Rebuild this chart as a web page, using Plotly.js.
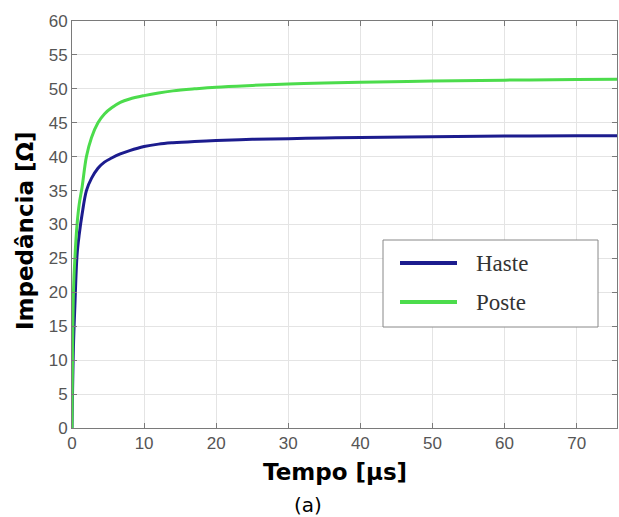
<!DOCTYPE html>
<html>
<head>
<meta charset="utf-8">
<script src="https://cdn.plot.ly/plotly-3.0.1.min.js"></script>
<style>html,body{margin:0;padding:0;background:#fff;}#chart{width:619px;height:517px;}</style>
</head>
<body>
<div id="chart"></div>
<script>
// Data
const tempo = [0, 0.2, 0.4, 0.7, 1.0, 1.4, 2.0, 2.7, 3.6, 4.5, 5.5, 6.7, 8, 10, 12, 14, 17, 20, 25, 30, 35, 40, 50, 60, 70, 76];
const haste = [0, 12, 18, 25.5, 28.5, 31.5, 35, 36.8, 38.3, 39.2, 39.8, 40.4, 40.9, 41.5, 41.85, 42.05, 42.25, 42.4, 42.55, 42.65, 42.75, 42.83, 42.95, 43.03, 43.08, 43.1];
const poste = [0, 20, 25, 30, 33, 35.5, 40, 42.8, 45, 46.3, 47.2, 48.0, 48.5, 49.0, 49.4, 49.7, 50.0, 50.25, 50.5, 50.7, 50.85, 50.97, 51.15, 51.28, 51.38, 51.43];
const seriesNames = ['Haste', 'Poste'];
const xTicks = [0, 10, 20, 30, 40, 50, 60, 70];
const yTicks = [0, 5, 10, 15, 20, 25, 30, 35, 40, 45, 50, 55, 60];
const xTitle = 'Tempo [μs]';
const yTitle = 'Impedância [Ω]';
const caption = '(a)';

const colors = ['#1c1c8e', '#4cdc4c'];

const traces = [
  {x: tempo, y: haste, name: seriesNames[0], type: 'scatter', mode: 'lines',
   line: {color: colors[0], width: 3, shape: 'spline', smoothing: 1.0}, showlegend: false},
  {x: tempo, y: poste, name: seriesNames[1], type: 'scatter', mode: 'lines',
   line: {color: colors[1], width: 3, shape: 'spline', smoothing: 1.0}, showlegend: false}
];

const L = 72, R = 617, T = 21, B = 428;
const W = 619, H = 517;
const px = v => (v - L) / (R - L);
const py = v => (B - v) / (B - T);

const axisCommon = {
  showline: true, linecolor: '#7a7a7a', linewidth: 1, mirror: 'ticks',
  ticks: 'inside', ticklen: 5, tickcolor: '#7a7a7a',
  showgrid: true, gridcolor: '#e4e4e4', gridwidth: 1,
  zeroline: false,
  tickfont: {family: 'Liberation Sans, Arial, sans-serif', size: 17, color: '#555'}
};

const legendLines = [
  {y: 263, color: colors[0], name: seriesNames[0]},
  {y: 302, color: colors[1], name: seriesNames[1]}
];

const shapes = [
  {type: 'rect', xref: 'paper', yref: 'paper', x0: px(383), x1: px(598), y0: py(327), y1: py(240),
   line: {color: '#888', width: 1}, fillcolor: '#fff', layer: 'above'}
];
const annotations = [];
legendLines.forEach(l => {
  shapes.push({type: 'line', xref: 'paper', yref: 'paper', x0: px(400), x1: px(457), y0: py(l.y), y1: py(l.y),
    line: {color: l.color, width: 4}, layer: 'above'});
  annotations.push({xref: 'paper', yref: 'paper', x: px(474), y: py(l.y), xanchor: 'left', yanchor: 'middle',
    text: l.name, showarrow: false, font: {family: 'Liberation Serif, Times New Roman, serif', size: 23, color: '#333'}});
});
annotations.push({xref: 'paper', yref: 'paper', x: px(335), y: py(472), xanchor: 'center', yanchor: 'middle',
  text: '<b>' + xTitle + '</b>', showarrow: false, font: {family: 'DejaVu Sans, Verdana, sans-serif', size: 23, color: '#000'}});
annotations.push({xref: 'paper', yref: 'paper', x: px(308), y: py(505), xanchor: 'center', yanchor: 'middle',
  text: caption, showarrow: false, font: {family: 'DejaVu Sans, Verdana, sans-serif', size: 20, color: '#000'}});
annotations.push({xref: 'paper', yref: 'paper', x: px(25), y: py(231), xanchor: 'center', yanchor: 'middle',
  text: '<b>' + yTitle + '</b>', textangle: -90, showarrow: false, font: {family: 'DejaVu Sans, Verdana, sans-serif', size: 23, color: '#000'}});

const layout = {
  width: W, height: H,
  margin: {l: L, r: W - R, t: T, b: H - B, pad: 0},
  paper_bgcolor: '#fff', plot_bgcolor: '#fff',
  showlegend: false,
  xaxis: Object.assign({}, axisCommon, {range: [0, 75.6], tickvals: xTicks, ticktext: xTicks.map(String)}),
  yaxis: Object.assign({}, axisCommon, {range: [0, 60], tickvals: yTicks, ticktext: yTicks.map(String)}),
  shapes: shapes,
  annotations: annotations
};

Plotly.newPlot('chart', traces, layout, {displayModeBar: false, staticPlot: true});
</script>
</body>
</html>
